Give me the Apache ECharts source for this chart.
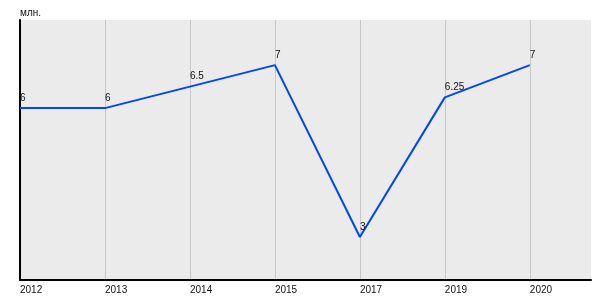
<!DOCTYPE html>
<html>
<head>
<meta charset="utf-8">
<script src="https://cdn.jsdelivr.net/npm/echarts@6/dist/echarts.min.js"></script>
<style>html,body{margin:0;padding:0;background:#fff}#c{width:600px;height:300px}</style>
</head>
<body>
<div id="c"></div>
<script>
var categories = ['2012', '2013', '2014', '2015', '2017', '2019', '2020'];
var values = [6, 6, 6.5, 7, 3, 6.25, 7];
var yName = 'млн.';

var points = values.map(function (v, i) { return [i, v]; });
var chart = echarts.init(document.getElementById('c'), null, { renderer: 'canvas' });
chart.setOption({
  animation: false,
  backgroundColor: '#ffffff',
  textStyle: { fontFamily: 'Liberation Sans, Arial, sans-serif' },
  grid: { left: 20, right: 9, top: 20, bottom: 20, show: true, backgroundColor: '#ebebeb', borderWidth: 0 },
  xAxis: {
    type: 'value', min: 0, max: 6.72, interval: 1,
    axisLine: { show: true, onZero: false, lineStyle: { color: '#000', width: 2 } },
    axisTick: { show: false },
    axisLabel: {
      show: true, color: '#111', fontSize: 10, align: 'left', margin: 5,
      showMaxLabel: false,
      formatter: function (v) { return categories[v] !== undefined && Number.isInteger(v) ? categories[v] : ''; }
    },
    splitLine: { show: true, showMinLine: false, showMaxLine: false, lineStyle: { color: '#c8c8c8', width: 1 } }
  },
  yAxis: {
    type: 'value', min: 2, max: 8.05,
    name: yName, nameLocation: 'end', nameGap: 3,
    nameTextStyle: { color: '#111', fontSize: 10, align: 'left', padding: [0, 0, -1, 0] },
    axisLine: { show: true, onZero: false, lineStyle: { color: '#000', width: 2 } },
    axisTick: { show: false },
    axisLabel: { show: false },
    splitLine: { show: false }
  },
  series: [{
    type: 'line',
    data: points,
    symbol: 'circle', symbolSize: 0, showSymbol: true,
    lineStyle: { color: '#0047ee', width: 2 },
    itemStyle: { color: '#0047ee' },
    label: {
      show: true, position: 'top', align: 'left', distance: 5,
      color: '#111', fontSize: 10,
      formatter: function (p) { return String(p.value[1]); }
    }
  }]
});
</script>
</body>
</html>
